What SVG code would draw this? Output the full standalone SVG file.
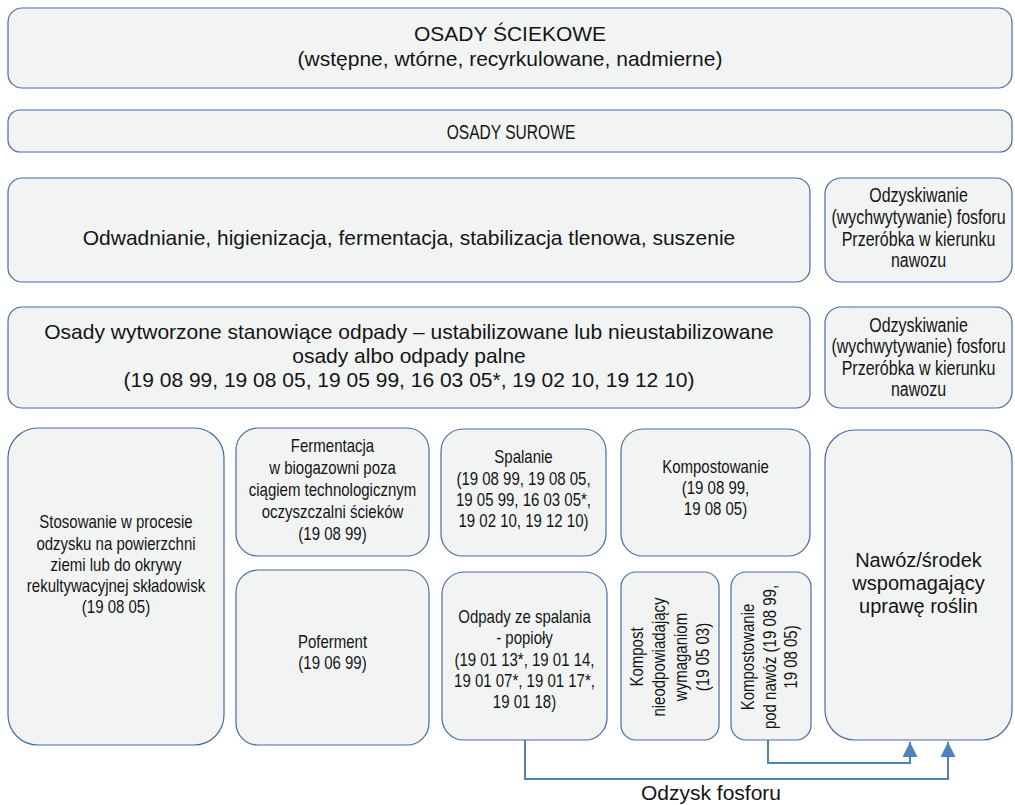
<svg xmlns="http://www.w3.org/2000/svg" width="1015" height="805" viewBox="0 0 1015 805">
<defs>
<style>
.box{fill:#f2f4f4;stroke:#4a6b9d;stroke-width:1.2}
.t{font-family:"Liberation Sans",Arial,sans-serif;fill:#141414;text-anchor:middle}
.big{font-size:21px}
.n{font-size:18.3px}
.nr{font-size:19.5px}
.lg{font-size:20px}
.conn{fill:none;stroke:#4f81bd;stroke-width:2}
</style>
<marker id="ah" viewBox="0 0 10 10" refX="10" refY="5" markerWidth="7.5" markerHeight="7.5" markerUnits="strokeWidth" orient="auto">
<path d="M0,0 L10,5 L0,10 Z" fill="#4f81bd"/>
</marker>
</defs>
<rect width="1015" height="805" fill="#ffffff"/>

<g id="osady-sciekowe">
<rect class="box" x="8" y="8" width="1004" height="80" rx="14"/>
<text class="t big"><tspan x="510" y="41">OSADY ŚCIEKOWE</tspan><tspan x="510" y="66">(wstępne, wtórne, recyrkulowane, nadmierne)</tspan></text>
</g>

<g id="osady-surowe">
<rect class="box" x="8" y="110" width="1004" height="42" rx="12"/>
<text class="t" style="font-size:20.5px" transform="translate(511,0) scale(0.76,1)" x="0" y="139">OSADY SUROWE</text>
</g>

<g id="odwadnianie">
<rect class="box" x="8" y="178" width="802" height="104" rx="14"/>
<text class="t big" x="409" y="245">Odwadnianie, higienizacja, fermentacja, stabilizacja tlenowa, suszenie</text>
</g>

<g id="odzysk-1">
<rect class="box" x="825" y="178" width="187" height="104" rx="16"/>
<text class="t nr" transform="translate(918.5,0) scale(0.82,1)"><tspan x="0" y="202">Odzyskiwanie</tspan><tspan x="0" y="224">(wychwytywanie) fosforu</tspan><tspan x="0" y="246">Przeróbka w kierunku</tspan><tspan x="0" y="267">nawozu</tspan></text>
</g>

<g id="osady-wytworzone">
<rect class="box" x="8" y="307" width="802" height="101" rx="14"/>
<text class="t big"><tspan x="409" y="339">Osady wytworzone stanowiące odpady – ustabilizowane lub nieustabilizowane</tspan><tspan x="409" y="363">osady albo odpady palne</tspan><tspan x="409" y="387">(19 08 99, 19 08 05, 19 05 99, 16 03 05*, 19 02 10, 19 12 10)</tspan></text>
</g>

<g id="odzysk-2">
<rect class="box" x="825" y="307" width="187" height="101" rx="16"/>
<text class="t nr" transform="translate(918.5,0) scale(0.82,1)"><tspan x="0" y="332">Odzyskiwanie</tspan><tspan x="0" y="353">(wychwytywanie) fosforu</tspan><tspan x="0" y="375">Przeróbka w kierunku</tspan><tspan x="0" y="396">nawozu</tspan></text>
</g>

<g id="stosowanie">
<rect class="box" x="8" y="428" width="216" height="317" rx="30"/>
<text class="t n" transform="translate(116,0) scale(0.82,1)"><tspan x="0" y="528">Stosowanie w procesie</tspan><tspan x="0" y="550">odzysku na powierzchni</tspan><tspan x="0" y="571">ziemi lub do okrywy</tspan><tspan x="0" y="592">rekultywacyjnej składowisk</tspan><tspan x="0" y="613">(19 08 05)</tspan></text>
</g>

<g id="fermentacja">
<rect class="box" x="236" y="428" width="193" height="128" rx="22"/>
<text class="t n" transform="translate(332.5,0) scale(0.82,1)"><tspan x="0" y="452">Fermentacja</tspan><tspan x="0" y="474">w biogazowni poza</tspan><tspan x="0" y="496">ciągiem technologicznym</tspan><tspan x="0" y="518">oczyszczalni ścieków</tspan><tspan x="0" y="540">(19 08 99)</tspan></text>
</g>

<g id="spalanie">
<rect class="box" x="441" y="429" width="165" height="127" rx="22"/>
<text class="t n" transform="translate(523.5,0) scale(0.82,1)"><tspan x="0" y="463">Spalanie</tspan><tspan x="0" y="485">(19 08 99, 19 08 05,</tspan><tspan x="0" y="506">19 05 99, 16 03 05*,</tspan><tspan x="0" y="527">19 02 10, 19 12 10)</tspan></text>
</g>

<g id="kompostowanie">
<rect class="box" x="621" y="429" width="189" height="127" rx="22"/>
<text class="t n" transform="translate(715.5,0) scale(0.82,1)"><tspan x="0" y="473">Kompostowanie</tspan><tspan x="0" y="494">(19 08 99,</tspan><tspan x="0" y="515">19 08 05)</tspan></text>
</g>

<g id="nawoz">
<rect class="box" x="825" y="430" width="187" height="310" rx="30"/>
<text class="t lg"><tspan x="918.5" y="567">Nawóz/środek</tspan><tspan x="918.5" y="590">wspomagający</tspan><tspan x="918.5" y="613">uprawę roślin</tspan></text>
</g>

<g id="poferment">
<rect class="box" x="236" y="570" width="193" height="175" rx="22"/>
<text class="t n" transform="translate(332.5,0) scale(0.82,1)"><tspan x="0" y="648">Poferment</tspan><tspan x="0" y="669">(19 06 99)</tspan></text>
</g>

<g id="popioly">
<rect class="box" x="442" y="572" width="165" height="168" rx="22"/>
<text class="t n" transform="translate(524.5,0) scale(0.82,1)"><tspan x="0" y="623">Odpady ze spalania</tspan><tspan x="0" y="644">- popioły</tspan><tspan x="0" y="666">(19 01 13*, 19 01 14,</tspan><tspan x="0" y="687">19 01 07*, 19 01 17*,</tspan><tspan x="0" y="708">19 01 18)</tspan></text>
</g>

<g id="kompost-nieodpowiadajacy">
<rect class="box" x="621" y="572" width="98" height="168" rx="15"/>
<text class="t n" transform="translate(676,657) rotate(-90) scale(0.82,1)"><tspan x="0" y="-33">Kompost</tspan><tspan x="0" y="-11">nieodpowiadający</tspan><tspan x="0" y="11">wymaganiom</tspan><tspan x="0" y="33">(19 05 03)</tspan></text>
</g>

<g id="kompostowanie-pod-nawoz">
<rect class="box" x="731" y="572" width="80" height="168" rx="15"/>
<text class="t n" transform="translate(775,657) rotate(-90) scale(0.82,1)"><tspan x="0" y="-21">Kompostowanie</tspan><tspan x="0" y="1">pod nawóz (19 08 99,</tspan><tspan x="0" y="22">19 08 05)</tspan></text>
</g>

<g id="connectors">
<polyline class="conn" points="768,740 768,763 910,763 910,742" marker-end="url(#ah)"/>
<polyline class="conn" points="525,740 525,779 948,779 948,742" marker-end="url(#ah)"/>
<text class="t" style="font-size:21px" x="711" y="800">Odzysk fosforu</text>
</g>
</svg>
